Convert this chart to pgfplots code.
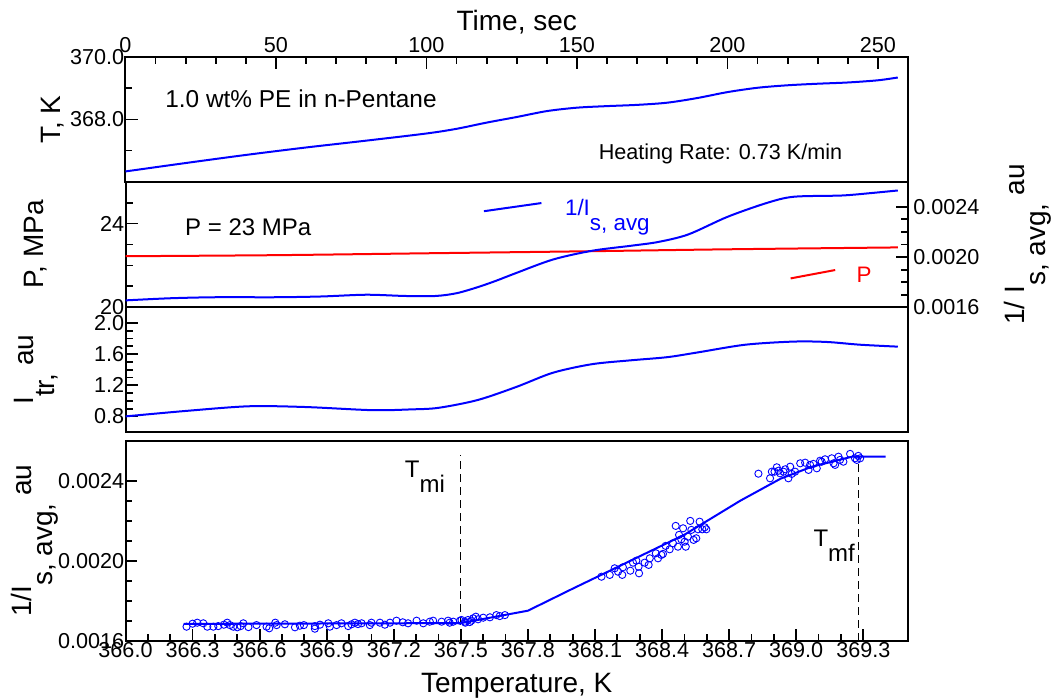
\documentclass[border=0pt]{standalone}
\usepackage{fontspec}
\setmainfont{Liberation Sans}
\usepackage{pgfplots}
\pgfplotsset{compat=1.18}
\definecolor{myblue}{RGB}{0,0,255}
\definecolor{myred}{RGB}{255,0,0}
\newcommand{\sub}[1]{\raisebox{-0.75em}{#1}}
\newcommand{\fs}[1]{\fontsize{#1}{#1}\selectfont}
\pgfplotsset{
  base/.style={
    scale only axis, width=391.25pt, anchor=south west,
    tick align=inside, scaled ticks=false,
    /pgf/number format/assume math mode=true,
    tick label style={font=\fs{10.8}, inner sep=0.5pt},
    label style={font=\fs{14}},
    axis line style={line width=1pt},
    tick style={line width=0.9pt, black},
    major tick length=6pt, minor tick length=3.5pt,
  },
}
\begin{document}
\begin{tikzpicture}
\path[use as bounding box] (0pt,0pt) rectangle (528pt,350pt);

% Panel 1: T vs time
\begin{axis}[base, at={(62.75pt,259.15pt)}, height=62.2pt,
  xmin=0, xmax=260, ymin=366, ymax=370,
  xtick={0,50,100,150,200,250}, minor x tick num=4,
  xtick pos=right, xticklabel pos=right,
  xticklabel style={yshift=1.5pt},
  ytick={368,370}, yticklabels={368.0,370.0}, minor ytick={367,369}, ytick pos=left,
  xlabel={Time, sec}, xlabel style={at={(axis description cs:0.5,1.219)}, anchor=base},
  ylabel={T, K}, ylabel style={at={(axis description cs:-0.0837,0.5)}, anchor=base}]
\addplot[myblue, line width=1pt, smooth] coordinates {
(0,366.33)(20,366.60)(40,366.86)(60,367.10)(80,367.32)(100,367.55)(110,367.70)
(120,367.90)(130,368.08)(140,368.27)(150,368.38)(160,368.43)(170,368.47)(180,368.54)
(190,368.69)(200,368.88)(210,369.02)(220,369.10)(230,369.15)(240,369.19)(250,369.26)(256.6,369.35)};
\node[anchor=base west, font=\fs{12.2}] at (axis cs:10.9,368.40) {1.0 wt\% PE in n-Pentane};
\node[anchor=base west, font=\fs{10.8}] at (axis cs:154.9,366.70) {Heating Rate: 0.73 K/min};
\end{axis}

% Panel 2: P (left) and 1/Is,avg (right)
\begin{axis}[base, at={(62.75pt,196.35pt)}, height=62.8pt,
  xmin=0, xmax=260, ymin=20, ymax=26,
  xtick=\empty, ytick={20,24}, minor ytick={21,22,23,25}, ytick pos=left,
  ylabel={P, MPa}, ylabel style={at={(axis description cs:-0.1054,0.5)}, anchor=base}]
\addplot[myred, line width=1pt, smooth] coordinates {
(0,22.44)(50,22.49)(100,22.58)(150,22.67)(200,22.77)(256.6,22.86)};
\node[anchor=base west, font=\fs{12}] at (axis cs:17.5,23.44) {P = 23 MPa};
\addplot[myblue, line width=1pt] coordinates {(119.1,24.59)(138.2,24.98)};
\node[anchor=base west, text=myblue, font=\fs{11.2}] at (axis cs:143.7,24.40) {1/I\raisebox{-0.7em}{s, avg}};
\addplot[myred, line width=1pt] coordinates {(221,21.38)(235.8,21.78)};
\node[anchor=base west, text=myred, font=\fs{11.2}] at (axis cs:240.6,21.2) {P};
\end{axis}
\begin{axis}[base, at={(62.75pt,196.35pt)}, height=62.8pt,
  xmin=0, xmax=260, ymin=0.0016, ymax=0.0026,
  hide x axis, axis y line*=right,
  ytick={0.0016,0.0020,0.0024}, yticklabels={0.0016,0.0020,0.0024}, minor y tick num=3,
  yticklabel style={xshift=2pt},
  ylabel={1/ I\sub{s, avg,} au}, ylabel style={at={(axis description cs:1.1495,0.5)}, anchor=base, rotate=0}]
\addplot[myblue, line width=1pt, smooth] coordinates {
(0,0.001655)(15,0.001672)(30,0.00168)(50,0.00168)(65,0.001686)(80,0.0017)(93,0.00169)
(103,0.00169)(110,0.001712)(117,0.00176)(123,0.00181)(129.5,0.00187)(142,0.00198)(155,0.00205)
(168,0.00209)(177,0.00212)(187,0.00218)(200,0.00232)(213,0.00243)(222,0.00248)
(238,0.00249)(248,0.00251)(256.6,0.00253)};
\end{axis}

% Panel 3: Itr
\begin{axis}[base, at={(62.75pt,134pt)}, height=62.35pt,
  xmin=0, xmax=260, ymin=0.6, ymax=2.2,
  xtick=\empty, ytick={0.8,1.2,1.6,2.0}, yticklabels={0.8,1.2,1.6,2.0}, minor y tick num=3, ytick pos=left,
  ylabel={I\sub{tr,} au}, ylabel style={at={(axis description cs:-0.118,0.5)}, anchor=base}]
\addplot[myblue, line width=1pt, smooth] coordinates {
(0,0.80)(20,0.87)(41,0.93)(60,0.92)(82,0.88)(95,0.89)(104,0.91)(117,1.01)(130,1.18)
(142,1.36)(155,1.47)(168,1.52)(180,1.56)(190,1.62)(206,1.72)(222,1.76)(233,1.755)
(244,1.72)(256.6,1.695)};
\end{axis}

% Panel 4: 1/Is,avg vs temperature
\begin{axis}[base, at={(62.75pt,29.65pt)}, height=100pt,
  xmin=366.0, xmax=369.5, ymin=0.0016, ymax=0.0026,
  xtick={366.0,366.3,366.6,366.9,367.2,367.5,367.8,368.1,368.4,368.7,369.0,369.3},
  xticklabels={366.0,366.3,366.6,366.9,367.2,367.5,367.8,368.1,368.4,368.7,369.0,369.3},
  minor x tick num=2, xtick pos=left,
  ytick={0.0016,0.0020,0.0024}, yticklabels={0.0016,0.0020,0.0024}, minor y tick num=3, ytick pos=left,
  xlabel={Temperature, K}, xlabel style={at={(axis description cs:0.5,-0.2615)}, anchor=base},
  ylabel={1/I\sub{s, avg,} au}, ylabel style={at={(axis description cs:-0.1195,0.5)}, anchor=base}]
\addplot[black, dashed, line width=0.6pt, dash pattern=on 4pt off 2.5pt] coordinates {(367.5,0.00168)(367.5,0.00253)};
\addplot[black, dashed, line width=0.6pt, dash pattern=on 4pt off 2.5pt] coordinates {(369.28,0.0016)(369.28,0.00251)};
\addplot[only marks, mark=o, mark size=1.8pt, myblue, mark options={line width=0.45pt}] coordinates {
(366.273,0.00167)(366.321,0.00169)(366.348,0.001687)(366.366,0.00167)(366.393,0.00167)
(366.415,0.001673)(366.455,0.00169)(366.467,0.001678)(366.482,0.00167)(366.50,0.001667)
(366.515,0.001673)(366.527,0.001687)(366.586,0.001678)(366.631,0.00167)(366.643,0.001662)
(366.676,0.001678)(366.713,0.001682)(366.758,0.001667)(366.798,0.001678)(366.847,0.001673)
(366.847,0.00166)(366.907,0.001687)(366.914,0.00167)(366.944,0.001678)(366.966,0.001687)
(366.996,0.001673)(367.011,0.001682)(367.026,0.00169)(367.056,0.001687)(367.093,0.001678)
(367.100,0.00169)(367.138,0.00169)(367.183,0.00169)(367.212,0.0017)(367.264,0.001687)
(367.302,0.0017)(367.332,0.001687)(367.361,0.001695)(367.376,0.0017)(367.414,0.001695)
(367.443,0.0017)(367.466,0.001695)(367.496,0.0017)(367.503,0.0017035)(367.518,0.001695)
(367.532,0.0017035)(367.547,0.0017)(367.555,0.001712)(367.567,0.00172)(367.577,0.001707)
(367.600,0.001715)(367.630,0.001717)(367.659,0.001728)(367.674,0.001723)(367.697,0.001728)
(366.30,0.001685)(366.44,0.00168)(366.55,0.001668)(366.67,0.00169)(366.78,0.001675)
(366.87,0.00168)(367.04,0.001683)(367.16,0.00168)(367.24,0.001692)(367.45,0.00169)
(367.52,0.00169)(367.54,0.001693)
(368.129,0.00192)(368.166,0.001929)(368.188,0.001962)(368.203,0.001945)(368.222,0.001929)
(368.225,0.001967)(368.258,0.00195)(368.270,0.00199)(368.285,0.0020)(368.295,0.00197)
(368.297,0.001937)(368.322,0.00199)(368.340,0.001979)(368.345,0.002012)(368.372,0.002037)
(368.382,0.002012)(368.397,0.002029)(368.404,0.002034)(368.416,0.002074)(368.434,0.002057)
(368.449,0.002087)(368.461,0.002174)(368.471,0.00207)(368.476,0.002129)(368.486,0.002107)
(368.494,0.002162)(368.501,0.002095)(368.506,0.00207)(368.516,0.00212)(368.526,0.002199)
(368.531,0.002154)(368.541,0.002104)(368.553,0.002112)(368.561,0.002157)(368.568,0.002195)
(368.580,0.002157)(368.591,0.002167)(368.598,0.002157)
(368.831,0.002435)(368.883,0.002412)(368.891,0.002445)(368.903,0.002445)(368.913,0.002467)
(368.921,0.00245)(368.928,0.002437)(368.943,0.002445)(368.951,0.002457)(368.965,0.002412)
(368.973,0.00247)(368.980,0.002434)(368.995,0.002445)(369.018,0.002487)(369.040,0.00249)
(369.055,0.002454)(369.062,0.002479)(369.077,0.002484)(369.092,0.002462)(369.107,0.0025)
(369.114,0.002495)(369.129,0.002507)(369.159,0.002512)(369.167,0.002487)(369.174,0.002479)
(369.189,0.00252)(369.196,0.002504)(369.211,0.002495)(369.241,0.002534)(369.263,0.002512)
(369.271,0.002504)(369.278,0.002524)(369.286,0.002512)};
\addplot[myblue, line width=1pt] coordinates {
(366.26,0.001684)(367.50,0.001688)(367.80,0.00175)(368.00,0.00186)(368.50,0.00213)
(368.75,0.00230)(368.93,0.00241)(369.07,0.00247)(369.25,0.00252)(369.40,0.00252)};
\node[anchor=base west, font=\fs{12}] at (axis cs:367.218,0.0024135) {T\raisebox{-0.6em}{mi}};
\node[anchor=base west, font=\fs{12}] at (axis cs:369.046,0.0020685) {T\raisebox{-0.6em}{mf}};
\end{axis}
\end{tikzpicture}
\end{document}
